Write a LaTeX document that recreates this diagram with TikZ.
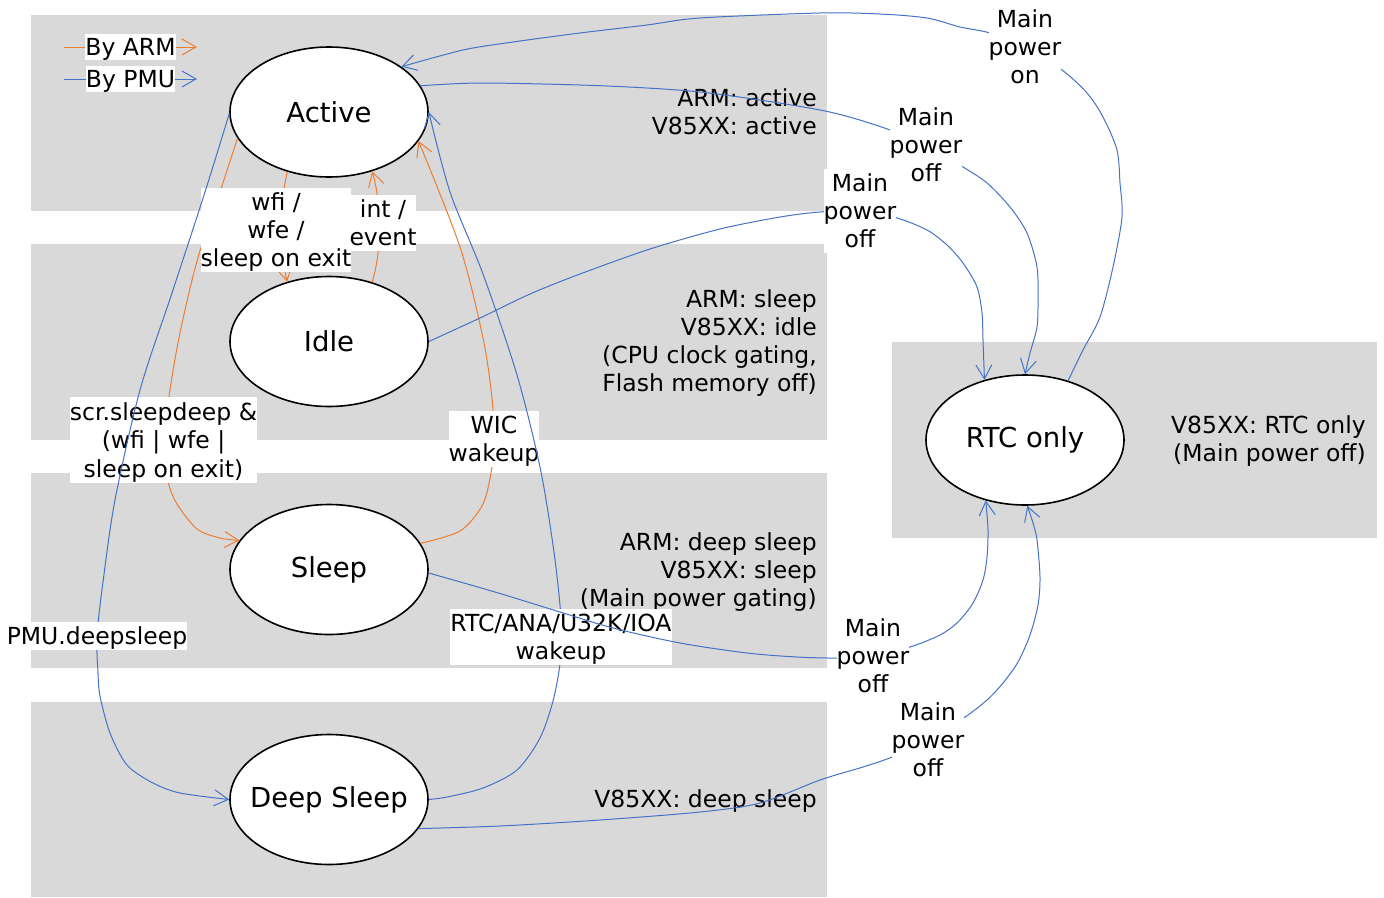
\documentclass[tikz,border=0pt]{standalone}
\usepackage{fontspec}
\setmainfont{DejaVu Sans}
\usetikzlibrary{arrows.meta,shapes.geometric}
\definecolor{armc}{HTML}{ED7D31}
\definecolor{pmuc}{HTML}{4472C4}
\definecolor{bandc}{HTML}{D9D9D9}
\newcommand\lblf{\fontsize{23.5}{28}\selectfont}
\newcommand\stf{\fontsize{27.5}{33}\selectfont}
\newcommand\lst{\rule[-5.4pt]{0pt}{28pt}}
\newcommand\gst{\rule[-4.5pt]{0pt}{26pt}}
\tikzset{
  state/.style={ellipse,draw=black,line width=1.6pt,fill=white,minimum width=198pt,minimum height=130pt,inner sep=0pt,font=\stf},
  lbl/.style={fill=white,inner sep=0pt,align=center,font=\lblf},
  note/.style={inner sep=0pt,align=right,font=\lblf,anchor=east},
  tipv/.style={-{Straight Barb[length=14pt,width=16pt]}},
  armedge/.style={draw=armc,line width=1pt,tipv},
  pmuedge/.style={draw=pmuc,line width=1pt,tipv},
  armline/.style={draw=armc,line width=1pt},
  pmuline/.style={draw=pmuc,line width=1pt},
  bandbox/.style={fill=bandc}
}
\begin{document}
\begin{tikzpicture}[x=1pt,y=-1pt]
\useasboundingbox (0,0) rectangle (1384,897);
% bands
\fill[bandbox] (31,15) rectangle (827,211);
\fill[bandbox] (31,244) rectangle (827,440);
\fill[bandbox] (31,473) rectangle (827,668);
\fill[bandbox] (31,702) rectangle (827,897);
\fill[bandbox] (892,342) rectangle (1377,538);
% notes
\node[note] (n1) at (817,114.5) {\strut ARM: active\\\strut V85XX: active};
\node[note] (n2) at (817,343.5) {\strut ARM: sleep\\\strut V85XX: idle\\\strut (CPU clock gating,\\\strut Flash memory off)};
\node[note] (n3) at (817,572.5) {\strut ARM: deep sleep\\\strut V85XX: sleep\\\strut (Main power gating)};
\node[note] (n4) at (817,801.5) {\strut V85XX: deep sleep};
\node[note] (n5) at (1366,441.5) {\strut V85XX: RTC only\\\strut (Main power off)};
% legend
\node[lbl] (lgA) at (130.5,47) {\gst By ARM};
\node[lbl] (lgP) at (130.5,79) {\gst By PMU};
\coordinate (la0) at (64,47);
\coordinate (la1) at (197,47);
\coordinate (lp0) at (64,79);
\coordinate (lp1) at (197,79);
\draw[armline] (la0) -- (lgA);
\draw[armedge] (lgA) -- (la1);
\draw[pmuline] (lp0) -- (lgP);
\draw[pmuedge] (lgP) -- (lp1);
% states
\node[state] (active) at (329,112) {Active};
\node[state] (idle) at (329,341.5) {Idle};
\node[state] (sleep) at (329,569.5) {Sleep};
\node[state] (deep) at (329,799.5) {\makebox[0pt]{Deep Sleep}};
\node[state] (rtc) at (1025,440) {RTC only};
% label anchor points
\coordinate (p1) at (276,230);
\coordinate (p2) at (383,223);
\coordinate (p3) at (163.5,440);
\coordinate (p4) at (494,439);
\coordinate (p5) at (97,636);
\coordinate (p6) at (561,636.5);
\coordinate (p7) at (926,145);
\coordinate (p8) at (860,211);
\coordinate (p9) at (873,656);
\coordinate (p10) at (928,740);
\coordinate (p11) at (1025,47);
% edge 3: Active -> Sleep (ARM)
\draw[armedge] plot[smooth] coordinates {(active.196) (220,192) (197,261) (177,348) (p3) (168,481) (177,504) (197,529) (220,538) (sleep.162)};
% edge 1: Active -> Idle (ARM)
\draw[armedge] (active.235) -- (p1) -- (idle.125.5);
\node[lbl] (l1) at (p1) {\lst wfi /\\\lst wfe /\\\lst sleep on exit};
% edge 2: Idle -> Active (ARM)
\draw[armedge] (idle.54) .. controls (382,250) and (382,205) .. (active.306);
\node[lbl] (l2) at (p2) {\lst int /\\\lst event};
\node[lbl] (l3) at (p3) {\lst scr.sleepdeep \&\\\lst (wfi | wfe |\\\lst sleep on exit)};
% edge 4: Sleep -> Active (ARM)
\draw[armedge] plot[smooth] coordinates {(sleep.16) (460,531) (483,504) (492,467) (p4) (492,398) (483,338) (460,247) (active.342)};
\node[lbl] (l4) at (p4) {\lst WIC\\\lst wakeup};
% edge 5: Active -> Deep Sleep (PMU)
\draw[pmuedge] plot[smooth] coordinates {(active.181) (205,192) (172,293) (140,390) (115,500) (103,582) (p5) (98,673) (100,696) (110,733) (127,765) (153,783) (180,793) (deep.west)};
\node[lbl] (l5) at (p5) {\lst PMU.deepsleep};
% edge 6: Deep Sleep -> Active (PMU)
\draw[pmuedge] plot[smooth] coordinates {(deep.east) (447,797) (483,788) (517,770) (540,738) (553,701) (560,664) (p6) (560,605) (553,545) (540,467) (517,375) (483,274) (450,192) (active.east)};
\node[lbl] (l6) at (p6) {\lst RTC/ANA/U32K/IOA\\\lst wakeup};
% edge 7: Active -> RTC
\draw[pmuedge] plot[smooth] coordinates {(active.16) (480,83) (580,85) (647,88) (700,92) (760,100) (820,110) (853,118) (890,130) (p7) (963,167) (987,183) (1010,207) (1027,233) (1037,267) (1038,300) (1037,327) (1030,353) (rtc.90)};
\node[lbl] (l7) at (p7) {\lst Main\\\lst power\\\lst off};
% edge 8: Idle -> RTC
\draw[pmuedge] plot[smooth] coordinates {(idle.east) (480,318) (530,294) (580,274) (650,249) (720,229) (780,217) (820,212) (p8) (897,218) (927,230) (947,245) (963,263) (977,287) (982,313) (983,340) (rtc.124)};
\node[lbl] (l8) at (p8) {\lst Main\\\lst power\\\lst off};
% edge 9: Sleep -> RTC
\draw[pmuedge] plot[smooth] coordinates {(sleep.358) (495,592) (560,612) (613,628) (680,643) (747,653) (797,657) (837,658) (p9) (910,647) (940,635) (958,622) (973,603) (983,580) (987,557) (988,530) (rtc.237)};
\node[lbl] (l9) at (p9) {\lst Main\\\lst power\\\lst off};
% edge 10: Deep Sleep -> RTC
\draw[pmuedge] plot[smooth] coordinates {(deep.342) (500,826) (600,820) (700,812) (760,803) (820,780) (863,767) (892,757) (p10) (965,717) (987,700) (1003,683) (1018,662) (1030,635) (1038,605) (1040,577) (1037,540) (1033,523) (rtc.272)};
\node[lbl] (l10) at (p10) {\lst Main\\\lst power\\\lst off};
% edge 11: RTC -> Active
\draw[pmuedge] plot[smooth] coordinates {(rtc.54) (1083,350) (1100,317) (1113,267) (1122,217) (1120,183) (1117,150) (1103,117) (1087,93) (1062,70) (p11) (990,33) (960,27) (927,18) (880,14) (820,13) (700,18) (647,25) (580,33) (513,42) (463,50) (active.32)};
\node[lbl] (l11) at (p11) {\lst Main\\\lst power\\\lst on};
\end{tikzpicture}
\end{document}
